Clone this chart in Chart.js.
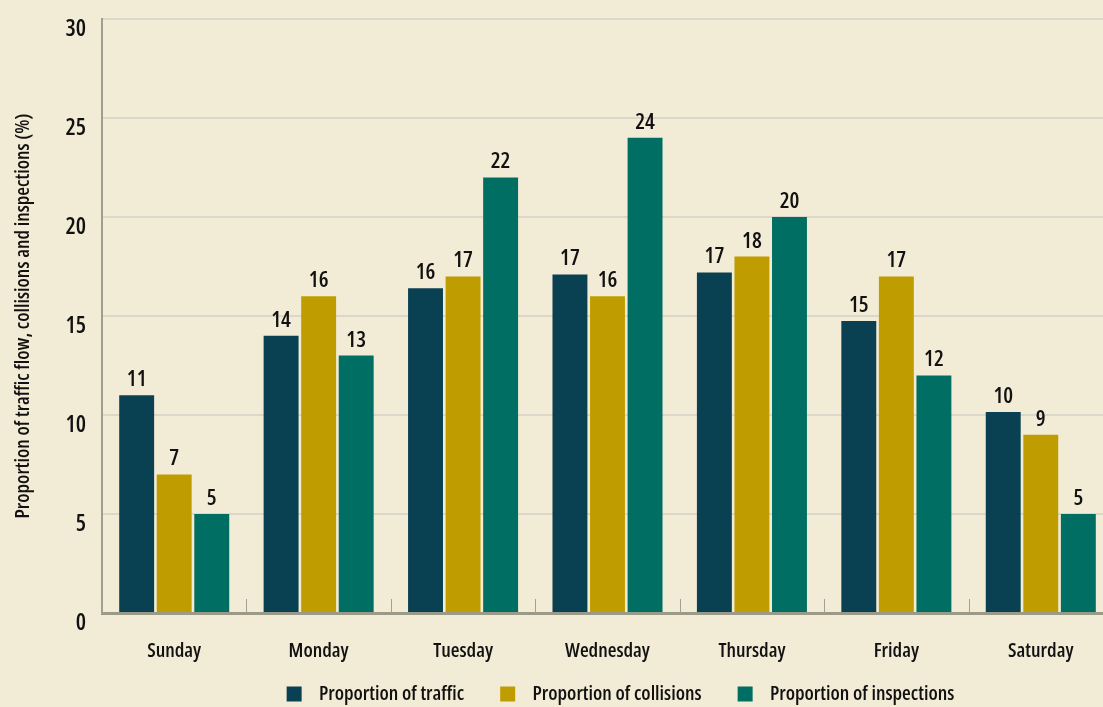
<!DOCTYPE html>
<html>
<head>
<meta charset="utf-8">
<script src="https://cdn.jsdelivr.net/npm/chart.js@4/dist/chart.umd.min.js"></script>
<style>
  html, body { margin: 0; padding: 0; background: #f2ebd5; overflow: hidden; }
  #wrap { width: 1116px; height: 707px; }
</style>
</head>
<body>
<div id="wrap"><canvas id="myChart" width="1116" height="707"></canvas></div>
<script>
const days = ["Sunday", "Monday", "Tuesday", "Wednesday", "Thursday", "Friday", "Saturday"];
const traffic = [11, 14, 16.4, 17.1, 17.2, 14.75, 10.15];
const collisions = [7, 16, 17, 16, 18, 17, 9];
const inspections = [5, 13, 22, 24, 20, 12, 5];
const yTicks = [0, 5, 10, 15, 20, 25, 30];

// the original uses a narrow face; take the narrowest condensed one we have
const ctx = document.getElementById("myChart").getContext("2d");
function w(font, txt) { ctx.font = font; return ctx.measureText(txt).width; }
const candidates = [
    ["extra-condensed", "'Noto Sans'"],
    ["condensed", "'Noto Sans'"],
    ["condensed", "'Open Sans'"],
    ["", "'DejaVu Sans Condensed'"]
];
let FONT = "'DejaVu Sans Condensed', sans-serif", STRETCH = "";
for (const [st, fam] of candidates) {
    if (!st) { FONT = fam + ", sans-serif"; STRETCH = ""; break; }
    if (w(st + " 40px " + fam, "Sunday Proportion") < w("40px " + fam, "Sunday Proportion") - 2) {
        FONT = fam + ", sans-serif"; STRETCH = st; break;
    }
}
const PRE = "600 " + STRETCH;
// font size that gives a text (about) its width in the reference
function fit(txt, px) { return Math.round(1.05 * 40 * px / w(PRE + " 40px " + FONT, txt)); }
const xTickSize = fit("Wednesday", 82);
const yTickSize = fit("30", 19) + 1;
const legendSize = fit("Proportion of inspections", 180);
const valueSize = fit("24", 18) + 1;
const titleSize = fit("Proportion of traffic flow, collisions and inspections (%)", 395);
const f = (size) => ({ family: FONT, size: size, weight: PRE });

// numbers on top of the bars
const valueLabels = {
    id: "valueLabels",
    afterDatasetsDraw(chart) {
        const c = chart.ctx;
        c.save();
        c.font = PRE + " " + valueSize + "px " + FONT;
        c.fillStyle = "#111";
        c.textAlign = "center";
        c.textBaseline = "alphabetic";
        chart.data.datasets.forEach((ds, i) => {
            chart.getDatasetMeta(i).data.forEach((bar, j) => {
                c.fillText(Math.round(ds.data[j]), bar.x, bar.y - 9);
            });
        });
        c.restore();
    }
};

// small upward ticks on the x axis between day groups
const groupTicks = {
    id: "groupTicks",
    afterDraw(chart) {
        const x = chart.scales.x, c = chart.ctx;
        const bottom = chart.chartArea.bottom;
        c.save();
        c.strokeStyle = "#a3a192";
        c.lineWidth = 1;
        for (let i = 0; i <= days.length; i++) {
            const px = Math.round(x.getPixelForValue(i - 0.5)) + 0.5;
            c.beginPath();
            c.moveTo(px, bottom - 14);
            c.lineTo(px, bottom);
            c.stroke();
        }
        c.restore();
    }
};

// move the legend to sit under the bars like the original
const legendShift = {
    id: "legendShift",
    afterLayout(chart) {
        const lg = chart.legend;
        lg.left += 64; lg.right += 64;
        lg.top -= 29;
    }
};

new Chart(ctx, {
    type: "bar",
    data: {
        labels: days,
        datasets: [{
            label: "Proportion of traffic",
            backgroundColor: "#0a4152",
            data: traffic
        }, {
            label: "Proportion of collisions",
            backgroundColor: "#bf9d00",
            data: collisions
        }, {
            label: "Proportion of inspections",
            backgroundColor: "#016e64",
            data: inspections
        }]
    },
    options: {
        responsive: false,
        animation: false,
        layout: { padding: { top: 19, right: 3, left: 0, bottom: 0 } },
        datasets: {
            bar: { categoryPercentage: 0.78, barPercentage: 0.93 }
        },
        plugins: {
            tooltip: { enabled: false },
            legend: {
                position: "bottom",
                maxHeight: 30,
                labels: {
                    font: f(legendSize),
                    color: "#111",
                    boxWidth: 15,
                    boxHeight: 15,
                    padding: 36,
                    generateLabels(chart) {
                        return Chart.defaults.plugins.legend.labels.generateLabels(chart).map(l => {
                            l.text = "  " + l.text;
                            l.lineWidth = 0;
                            return l;
                        });
                    }
                }
            }
        },
        scales: {
            x: {
                grid: { display: false },
                border: { color: "#9b9987", width: 3 },
                ticks: {
                    color: "#111",
                    font: f(xTickSize),
                    padding: 18
                },
                afterFit(scale) { scale.height = 64; }
            },
            y: {
                min: 0,
                max: 30,
                afterBuildTicks(scale) { scale.ticks = yTicks.map(v => ({ value: v })); },
                grid: { color: "#dbd7ca", lineWidth: 2, drawTicks: false },
                border: { color: "#a09e90", width: 2 },
                ticks: {
                    color: "#111",
                    font: f(yTickSize),
                    padding: 16,
                    labelOffset: 10
                },
                title: {
                    display: true,
                    text: "Proportion of traffic flow, collisions and inspections (%)",
                    color: "#111",
                    font: f(titleSize),
                    padding: { top: 11, bottom: 0 }
                },
                afterFit(scale) {
                    scale.width = 102;
                    scale.paddingTop = 0;
                }
            }
        }
    },
    plugins: [valueLabels, groupTicks, legendShift]
});
</script>
</body>
</html>
